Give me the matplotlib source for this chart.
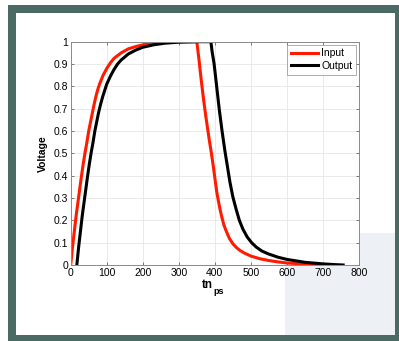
#Importing libraries
import matplotlib.pyplot as plt
from matplotlib.patches import Rectangle

plt.rcParams['font.family'] = ['Liberation Sans', 'DejaVu Sans']

# values
input_t = [0, 5, 10, 15, 20, 25, 30, 35, 40, 45, 50, 55, 60, 65, 70, 75, 80, 90, 100, 110,
           120, 140, 160, 180, 200, 230, 260, 300, 350,
           353, 356, 360, 365, 370, 375, 380, 385, 390, 395, 400, 405, 410, 415, 420, 425,
           430, 440, 450, 460, 470, 480, 500, 525, 550, 575, 600, 650, 700, 710]
input_v = [0.0, 0.08, 0.15, 0.22, 0.28, 0.34, 0.4, 0.455, 0.505, 0.55, 0.6, 0.64, 0.68, 0.72,
           0.755, 0.785, 0.81, 0.85, 0.88, 0.905, 0.925, 0.95, 0.968, 0.978, 0.986, 0.993,
           0.997, 0.999, 1.0,
           0.96, 0.92, 0.86, 0.79, 0.725, 0.665, 0.61, 0.555, 0.505, 0.45, 0.39, 0.33, 0.285,
           0.245, 0.21, 0.18, 0.158, 0.12, 0.095, 0.078, 0.065, 0.055, 0.04, 0.028, 0.02,
           0.014, 0.009, 0.004, 0.001, 0.0]

output_t = [17, 22, 27, 32, 37, 42, 47, 52, 57, 62, 67, 72, 77, 83, 89, 95, 100, 110, 120,
            130, 140, 160, 180, 200, 230, 260, 300, 350, 389,
            392, 395, 398, 405, 412, 420, 428, 435, 442, 450, 459, 468, 478, 490, 502, 515,
            530, 548, 575, 600, 650, 700, 730, 756]
output_v = [0.0, 0.08, 0.15, 0.22, 0.28, 0.34, 0.4, 0.455, 0.505, 0.55, 0.6, 0.64, 0.68, 0.72,
            0.755, 0.785, 0.81, 0.845, 0.875, 0.9, 0.918, 0.945, 0.962, 0.975, 0.986, 0.993,
            0.998, 1.0, 1.0,
            0.96, 0.93, 0.9, 0.8, 0.7, 0.6, 0.51, 0.44, 0.37, 0.305, 0.25, 0.2, 0.16, 0.125,
            0.1, 0.08, 0.063, 0.05, 0.035, 0.025, 0.012, 0.005, 0.002, 0.0]

x_ticks = [0, 100, 200, 300, 400, 500, 600, 700, 800]
y_ticks = [0, 0.1, 0.2, 0.3, 0.4, 0.5, 0.6, 0.7, 0.8, 0.9, 1]
y_tick_labels = ['0', '0.1', '0.2', '0.3', '0.4', '0.5', '0.6', '0.7', '0.8', '0.9', '1']

W, H = 399, 341
fig = plt.figure(figsize=(W / 100, H / 100), dpi=100)


def px_rect(x0, y0, x1, y1, color):
    # rectangle given in image pixels (origin top left)
    fig.patches.append(Rectangle((x0 / W, 1 - y1 / H), (x1 - x0) / W, (y1 - y0) / H,
                                 transform=fig.transFigure, facecolor=color,
                                 edgecolor='none', zorder=-10))


# slide frame
px_rect(8, 5, W + 5, H + 5, '#4b6a64')
px_rect(16, 13, 395, 335, 'white')
px_rect(285, 233, 395, 335, '#edf1f5')

ax = fig.add_axes([70.7 / W, 1 - 265 / H, (359 - 70.7) / W, (265 - 41.7) / H])
ax.plot(input_t, input_v, color='#ff1a00', linewidth=2.2, label='Input')
ax.plot(output_t, output_v, color='black', linewidth=2.2, label='Output')

ax.set_xlim(0, 800)
ax.set_ylim(0, 1)
ax.set_xticks(x_ticks)
ax.set_yticks(y_ticks)
ax.set_yticklabels(y_tick_labels)
ax.tick_params(direction='in', length=2.5, width=0.6, color='#666666', labelsize=7.5,
               top=True, right=True, pad=2)
ax.grid(True, color='#e6e6e6', linewidth=0.6)
for s in ax.spines.values():
    s.set_color('#8a8a8a')
    s.set_linewidth(0.7)

ax.set_ylabel('Voltage', fontsize=7.5, fontweight='bold', labelpad=4)
# x label "tn" with subscript "ps"
fig.text(213 / W, 1 - 285 / H, 'tn', fontsize=8.5, fontweight='bold', ha='right', va='center')
fig.text(213 / W, 1 - 292 / H, 'ps', fontsize=6.5, fontweight='bold', ha='left', va='center')

leg = ax.legend(loc='upper right', fontsize=7.5, fancybox=False, borderpad=0.35,
                handlelength=2.6, handletextpad=0.3, labelspacing=0.25, borderaxespad=0.3)
leg.get_frame().set_edgecolor('#8a8a8a')
leg.get_frame().set_linewidth(0.6)

plt.savefig('out.png', dpi=100)
